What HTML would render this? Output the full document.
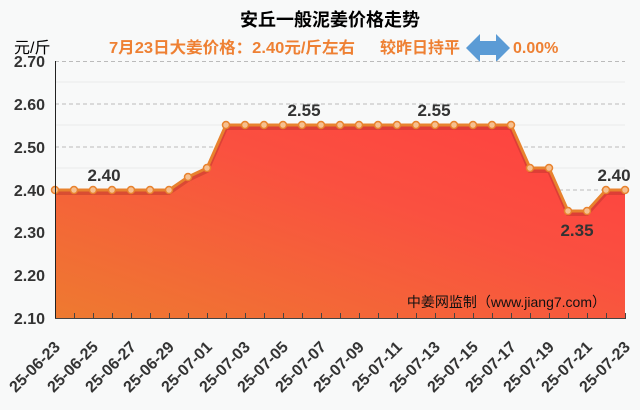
<!DOCTYPE html>
<html><head><meta charset="utf-8"><style>
body{margin:0;background:#f8f9f9;}
svg{display:block;font-family:"Liberation Sans","Noto Sans CJK SC",sans-serif;}
</style></head><body>
<svg width="640" height="410" viewBox="0 0 640 410">
<defs>
<linearGradient id="g" x1="0" y1="1" x2="1" y2="0">
<stop offset="0" stop-color="#ee7a30"/><stop offset="0.6" stop-color="#fa5040"/><stop offset="1" stop-color="#ff4040"/>
</linearGradient>
</defs>
<text x="330" y="26" text-anchor="middle" font-size="18" font-weight="bold" fill="#000">安丘一般泥姜价格走势</text>
<text x="14" y="53" font-size="16" fill="#000">元/斤</text>
<text x="109" y="53" font-size="16" font-weight="bold" fill="#ee8033" textLength="246" lengthAdjust="spacingAndGlyphs">7月23日大姜价格：2.40元/斤左右</text>
<text x="380" y="53" font-size="16" font-weight="bold" fill="#ee8033">较昨日持平</text>
<polygon points="466,48 480,34 480,41 496,41 496,34 510,48 496,62 496,55 480,55 480,62" fill="#5b9bd5"/>
<text x="513" y="53" font-size="16" font-weight="bold" fill="#ee8033">0.00%</text>
<g stroke="#eaeaea" stroke-width="1">
<line x1="55" y1="82" x2="625" y2="82"/><line x1="55" y1="125" x2="625" y2="125"/><line x1="55" y1="168" x2="625" y2="168"/><line x1="55" y1="211" x2="625" y2="211"/><line x1="55" y1="254" x2="625" y2="254"/><line x1="55" y1="297" x2="625" y2="297"/>
</g>
<g stroke="#bbb" stroke-width="1" stroke-dasharray="4,3">
<line x1="55" y1="61.5" x2="625" y2="61.5"/><line x1="55" y1="104" x2="625" y2="104"/><line x1="55" y1="147" x2="625" y2="147"/><line x1="55" y1="190" x2="625" y2="190"/><line x1="55" y1="232" x2="625" y2="232"/><line x1="55" y1="275" x2="625" y2="275"/>
</g>
<g font-size="16" font-weight="bold" fill="#333" text-anchor="end">
<text x="45" y="67">2.70</text><text x="45" y="110">2.60</text><text x="45" y="153">2.50</text><text x="45" y="196">2.40</text><text x="45" y="238">2.30</text><text x="45" y="281">2.20</text><text x="45" y="324">2.10</text>
</g>
<polygon fill="url(#g)" points="55,318 55,190 74,190 93,190 112,190 131,190 150,190 169,190 188,177 207,168 226,125 245,125 264,125 283,125 302,125 321,125 340,125 359,125 378,125 397,125 416,125 435,125 454,125 473,125 492,125 511,125 530,168 549,168 568,211 587,211 606,190 625,190 625,318"/>
<polyline fill="none" stroke="#b03028" stroke-opacity="0.4" stroke-width="4" points="55,193 169,193 188,180 207,171 226,128 511,128 530,171 549,171 568,214 587,214 606,193 625,193"/>
<polyline fill="none" stroke="#e8822e" stroke-width="3" stroke-linejoin="round" points="55,190 74,190 93,190 112,190 131,190 150,190 169,190 188,177 207,168 226,125 245,125 264,125 283,125 302,125 321,125 340,125 359,125 378,125 397,125 416,125 435,125 454,125 473,125 492,125 511,125 530,168 549,168 568,211 587,211 606,190 625,190"/>
<g fill="#f6c090" stroke="#e8822e" stroke-width="1.5">
<circle cx="55" cy="190" r="3.5"/><circle cx="74" cy="190" r="3.5"/><circle cx="93" cy="190" r="3.5"/><circle cx="112" cy="190" r="3.5"/><circle cx="131" cy="190" r="3.5"/><circle cx="150" cy="190" r="3.5"/><circle cx="169" cy="190" r="3.5"/><circle cx="188" cy="177" r="3.5"/><circle cx="207" cy="168" r="3.5"/><circle cx="226" cy="125" r="3.5"/><circle cx="245" cy="125" r="3.5"/><circle cx="264" cy="125" r="3.5"/><circle cx="283" cy="125" r="3.5"/><circle cx="302" cy="125" r="3.5"/><circle cx="321" cy="125" r="3.5"/><circle cx="340" cy="125" r="3.5"/><circle cx="359" cy="125" r="3.5"/><circle cx="378" cy="125" r="3.5"/><circle cx="397" cy="125" r="3.5"/><circle cx="416" cy="125" r="3.5"/><circle cx="435" cy="125" r="3.5"/><circle cx="454" cy="125" r="3.5"/><circle cx="473" cy="125" r="3.5"/><circle cx="492" cy="125" r="3.5"/><circle cx="511" cy="125" r="3.5"/><circle cx="530" cy="168" r="3.5"/><circle cx="549" cy="168" r="3.5"/><circle cx="568" cy="211" r="3.5"/><circle cx="587" cy="211" r="3.5"/><circle cx="606" cy="190" r="3.5"/><circle cx="625" cy="190" r="3.5"/>
</g>
<g font-size="17" font-weight="bold" fill="#333" text-anchor="middle">
<text x="104" y="181">2.40</text><text x="304" y="116">2.55</text><text x="434" y="116">2.55</text><text x="577" y="236">2.35</text><text x="614" y="181">2.40</text>
</g>
<text x="606" y="307" font-size="14" fill="#111" text-anchor="end">中姜网监制（www.jiang7.com）</text>
<line x1="55.5" y1="61" x2="55.5" y2="318" stroke="#222" stroke-width="1"/>
<line x1="55" y1="318.5" x2="626" y2="318.5" stroke="#444" stroke-width="1"/>
<g stroke="#444" stroke-width="1">
<line x1="74.5" y1="313" x2="74.5" y2="318"/><line x1="93.5" y1="313" x2="93.5" y2="318"/><line x1="112.5" y1="313" x2="112.5" y2="318"/><line x1="131.5" y1="313" x2="131.5" y2="318"/><line x1="150.5" y1="313" x2="150.5" y2="318"/><line x1="169.5" y1="313" x2="169.5" y2="318"/><line x1="188.5" y1="313" x2="188.5" y2="318"/><line x1="207.5" y1="313" x2="207.5" y2="318"/><line x1="226.5" y1="313" x2="226.5" y2="318"/><line x1="245.5" y1="313" x2="245.5" y2="318"/><line x1="264.5" y1="313" x2="264.5" y2="318"/><line x1="283.5" y1="313" x2="283.5" y2="318"/><line x1="302.5" y1="313" x2="302.5" y2="318"/><line x1="321.5" y1="313" x2="321.5" y2="318"/><line x1="340.5" y1="313" x2="340.5" y2="318"/><line x1="359.5" y1="313" x2="359.5" y2="318"/><line x1="378.5" y1="313" x2="378.5" y2="318"/><line x1="397.5" y1="313" x2="397.5" y2="318"/><line x1="416.5" y1="313" x2="416.5" y2="318"/><line x1="435.5" y1="313" x2="435.5" y2="318"/><line x1="454.5" y1="313" x2="454.5" y2="318"/><line x1="473.5" y1="313" x2="473.5" y2="318"/><line x1="492.5" y1="313" x2="492.5" y2="318"/><line x1="511.5" y1="313" x2="511.5" y2="318"/><line x1="530.5" y1="313" x2="530.5" y2="318"/><line x1="549.5" y1="313" x2="549.5" y2="318"/><line x1="568.5" y1="313" x2="568.5" y2="318"/><line x1="587.5" y1="313" x2="587.5" y2="318"/><line x1="606.5" y1="313" x2="606.5" y2="318"/><line x1="625.5" y1="313" x2="625.5" y2="318"/>
</g>
<g font-size="16" font-weight="bold" fill="#333" text-anchor="end">
<text transform="translate(61,348) rotate(-45)">25-06-23</text>
<text transform="translate(99,348) rotate(-45)">25-06-25</text>
<text transform="translate(137,348) rotate(-45)">25-06-27</text>
<text transform="translate(175,348) rotate(-45)">25-06-29</text>
<text transform="translate(213,348) rotate(-45)">25-07-01</text>
<text transform="translate(251,348) rotate(-45)">25-07-03</text>
<text transform="translate(289,348) rotate(-45)">25-07-05</text>
<text transform="translate(327,348) rotate(-45)">25-07-07</text>
<text transform="translate(365,348) rotate(-45)">25-07-09</text>
<text transform="translate(403,348) rotate(-45)">25-07-11</text>
<text transform="translate(441,348) rotate(-45)">25-07-13</text>
<text transform="translate(479,348) rotate(-45)">25-07-15</text>
<text transform="translate(517,348) rotate(-45)">25-07-17</text>
<text transform="translate(555,348) rotate(-45)">25-07-19</text>
<text transform="translate(593,348) rotate(-45)">25-07-21</text>
<text transform="translate(631,348) rotate(-45)">25-07-23</text>
</g>
</svg>
</body></html>
